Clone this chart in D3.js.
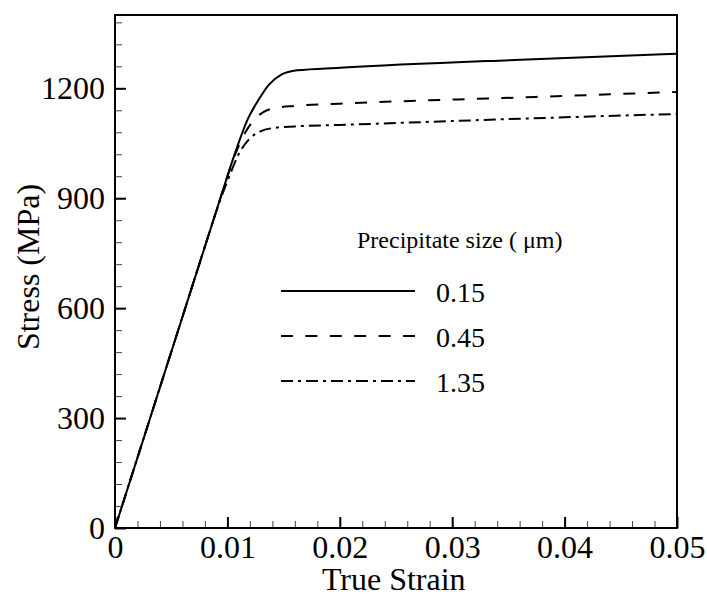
<!DOCTYPE html>
<html>
<head>
<meta charset="utf-8">
<script src="https://cdn.jsdelivr.net/npm/d3@7"></script>
<style>
  body { margin: 0; background: #fff; }
</style>
</head>
<body>
<div id="chart"></div>
<script>
// values (strain, stress in MPa)
var strain015 = [0, 0.003, 0.006, 0.0085, 0.0095, 0.0107, 0.0118, 0.0128, 0.0137, 0.0148, 0.0162, 0.020, 0.0361, 0.05];
var stress015 = [0, 288, 576, 816, 912, 1025, 1115, 1170, 1210, 1237, 1249, 1256, 1278, 1294];

var strain045 = [0, 0.003, 0.006, 0.0085, 0.0095, 0.0107, 0.0116, 0.0124, 0.0132, 0.0142, 0.016, 0.020, 0.0361, 0.05];
var stress045 = [0, 288, 576, 816, 912, 1020, 1080, 1115, 1135, 1146, 1152, 1158, 1175, 1190];

var strain135 = [0, 0.003, 0.006, 0.0085, 0.0093, 0.0102, 0.011, 0.0119, 0.0129, 0.0142, 0.016, 0.020, 0.0361, 0.05];
var stress135 = [0, 288, 576, 816, 890, 962, 1020, 1060, 1082, 1092, 1096, 1100, 1117, 1130];

var seriesNames = ["0.15", "0.45", "1.35"];
var legendTitle = "Precipitate size ( \u03bcm)";

var xTicks = [0, 0.01, 0.02, 0.03, 0.04, 0.05];
var xTickLabels = ["0", "0.01", "0.02", "0.03", "0.04", "0.05"];
var yTicks = [0, 300, 600, 900, 1200];
var yTickLabels = ["0", "300", "600", "900", "1200"];

var serif = "'Liberation Serif', 'Times New Roman', serif";
var width = 707, height = 596;
var margin = {top: 15, right: 30, bottom: 68, left: 115};
var w = width - margin.left - margin.right,
    h = height - margin.top - margin.bottom;

var svg = d3.select("#chart").append("svg")
  .attr("width", width).attr("height", height)
  .attr("font-family", serif);
var g = svg.append("g").attr("transform", "translate(" + margin.left + "," + margin.top + ")");

var x = d3.scaleLinear().domain([0, 0.05]).range([0, w]);
var y = d3.scaleLinear().domain([0, 1400]).range([h, 0]);

// minor ticks
g.append("g")
  .attr("transform", "translate(0," + h + ")")
  .call(d3.axisBottom(x).tickValues(d3.range(0, 0.0501, 0.002)).tickSize(-7).tickFormat(""))
  .call(function (a) { a.select(".domain").remove(); a.selectAll("line").attr("stroke", "#444").attr("stroke-width", 1); });
g.append("g")
  .call(d3.axisLeft(y).tickValues(d3.range(0, 1401, 60)).tickSize(-7).tickFormat(""))
  .call(function (a) { a.select(".domain").remove(); a.selectAll("line").attr("stroke", "#444").attr("stroke-width", 1); });

// major ticks with labels
g.append("g")
  .attr("transform", "translate(0," + h + ")")
  .call(d3.axisBottom(x).tickValues(xTicks).tickSize(-11).tickPadding(7)
    .tickFormat(function (d, i) { return xTickLabels[i]; }))
  .call(function (a) {
    a.attr("font-family", serif).attr("font-size", 32);
    a.select(".domain").remove();
    a.selectAll("line").attr("stroke-width", 2);
  });
g.append("g")
  .call(d3.axisLeft(y).tickValues(yTicks).tickSize(-11).tickPadding(10)
    .tickFormat(function (d, i) { return yTickLabels[i]; }))
  .call(function (a) {
    a.attr("font-family", serif).attr("font-size", 32);
    a.select(".domain").remove();
    a.selectAll("line").attr("stroke-width", 2);
  });

// frame
g.append("rect")
  .attr("width", w).attr("height", h)
  .attr("fill", "none").attr("stroke", "#000").attr("stroke-width", 2);

// curves
var line = d3.line()
  .x(function (d) { return x(d[0]); })
  .y(function (d) { return y(d[1]); })
  .curve(d3.curveMonotoneX);

var dashes = [null, "12,12.4", "12,5,3,5"];
var curves = [d3.zip(strain015, stress015), d3.zip(strain045, stress045), d3.zip(strain135, stress135)];

g.selectAll(".curve")
  .data(curves)
  .enter().append("path")
  .attr("class", "curve")
  .attr("d", line)
  .attr("fill", "none")
  .attr("stroke", "#000")
  .attr("stroke-width", 2)
  .attr("stroke-dasharray", function (d, i) { return dashes[i]; });

// legend
svg.append("text")
  .attr("x", 357).attr("y", 248)
  .attr("font-size", 24)
  .text(legendTitle);

var legend = svg.selectAll(".legend")
  .data(seriesNames)
  .enter().append("g")
  .attr("class", "legend")
  .attr("transform", function (d, i) { return "translate(0," + (291 + i * 45) + ")"; });

legend.append("line")
  .attr("x1", 281).attr("x2", 415)
  .attr("stroke", "#000").attr("stroke-width", 2)
  .attr("stroke-dasharray", function (d, i) { return dashes[i]; });

legend.append("text")
  .attr("x", 436).attr("y", 11)
  .attr("font-size", 28)
  .text(function (d) { return d; });

// axis titles
svg.append("text")
  .attr("x", margin.left + x(0.0248)).attr("y", 590)
  .attr("text-anchor", "middle")
  .attr("font-size", 32)
  .text("True Strain");

svg.append("text")
  .attr("transform", "translate(39,267) rotate(-90)")
  .attr("text-anchor", "middle")
  .attr("font-size", 32)
  .text("Stress (MPa)");
</script>
</body>
</html>
